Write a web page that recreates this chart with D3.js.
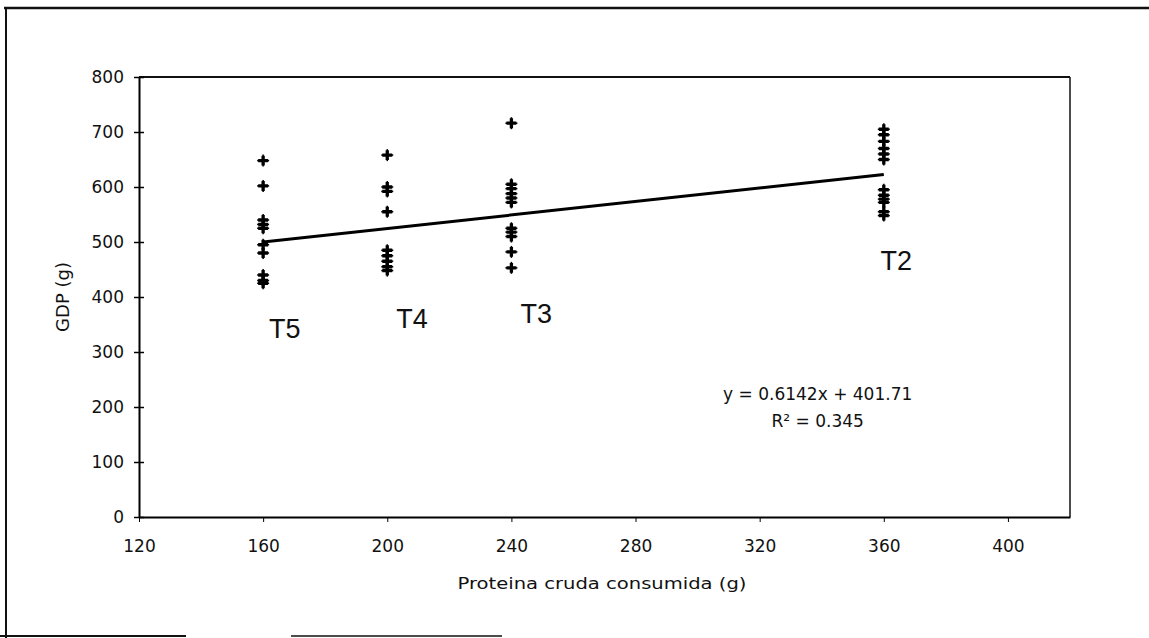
<!DOCTYPE html>
<html>
<head>
<meta charset="utf-8">
<script src="https://cdn.jsdelivr.net/npm/d3@7"></script>
<style>
  html, body { margin: 0; padding: 0; background: #fff; }
  svg { display: block; }
  text { font-family: "DejaVu Sans", sans-serif; fill: #111; }
</style>
</head>
<body>
<svg id="chart" width="1149" height="638"></svg>
<script>
// ---- data ----
const treatments = ["T5", "T4", "T3", "T2"];
const proteinX = [160, 200, 240, 360];
const t5Values = [648, 602, 540, 532, 525, 495, 480, 440, 430, 425];
const t4Values = [658, 600, 592, 555, 485, 475, 465, 455, 448];
const t3Values = [716, 605, 597, 588, 580, 572, 525, 518, 510, 482, 453];
const t2Values = [705, 695, 683, 670, 660, 650, 595, 585, 578, 572, 555, 548];
const seriesValues = [t5Values, t4Values, t3Values, t2Values];
const xTicks = [120, 160, 200, 240, 280, 320, 360, 400];
const yTicks = [0, 100, 200, 300, 400, 500, 600, 700, 800];
const slope = 0.6142, intercept = 401.71;
const trendRange = [160, 360];
const labelX = [167, 208, 248, 364];
const labelY = [325, 344, 353, 449];
const eqText = ["y = 0.6142x + 401.71", "R² = 0.345"];
const eqPos = [[338.7, 213], [338.7, 164]];

// ---- layout ----
const svg = d3.select("#chart");
const x = d3.scaleLinear().domain([120, 420]).range([139, 1070]);
const y = d3.scaleLinear().domain([0, 800]).range([517, 77]);

// outer frame (scanned page border)
const frame = svg.append("g").attr("stroke", "#111").attr("fill", "none");
frame.append("line").attr("x1", 6).attr("x2", 6).attr("y1", 8).attr("y2", 638).attr("stroke-width", 2);
frame.append("line").attr("x1", 4).attr("x2", 1149).attr("y1", 8).attr("y2", 8).attr("stroke-width", 2.5);
frame.append("line").attr("x1", 0).attr("x2", 186).attr("y1", 636).attr("y2", 636).attr("stroke-width", 2);
frame.append("line").attr("x1", 291).attr("x2", 502).attr("y1", 636).attr("y2", 636).attr("stroke-width", 1.5);

// plot box top/right
svg.append("line").attr("x1", x(120)).attr("x2", x(420)).attr("y1", y(800)).attr("y2", y(800))
  .attr("stroke", "#111").attr("stroke-width", 2);
svg.append("line").attr("x1", x(420)).attr("x2", x(420)).attr("y1", y(800)).attr("y2", y(0))
  .attr("stroke", "#111").attr("stroke-width", 1.5);

// axes
const yAxis = svg.append("g").attr("transform", `translate(${x(120)},0)`)
  .call(d3.axisLeft(y).tickValues(yTicks).tickSize(5).tickPadding(10).tickSizeOuter(0));
yAxis.selectAll(".tick line").attr("x1", 5).attr("stroke-width", 1.5);
yAxis.select(".domain").attr("stroke-width", 2);
yAxis.selectAll("text").style("font-size", "17px").style("font-family", "DejaVu Sans").attr("fill", "#111");

const xAxis = svg.append("g").attr("transform", `translate(0,${y(0)})`)
  .call(d3.axisBottom(x).tickValues(xTicks).tickSize(5).tickPadding(18).tickSizeOuter(0));
xAxis.select(".domain").attr("stroke-width", 2);
xAxis.selectAll("text").style("font-size", "17px").style("font-family", "DejaVu Sans").attr("fill", "#111");

// axis titles
svg.append("text").attr("x", 602).attr("y", 589).attr("text-anchor", "middle")
  .style("font-size", "16px").attr("textLength", 289).attr("lengthAdjust", "spacingAndGlyphs")
  .text("Proteina cruda consumida (g)");
svg.append("text").attr("transform", "translate(69,297) rotate(-90)").attr("text-anchor", "middle")
  .style("font-size", "18px").text("GDP (g)");

// trend line
svg.append("line")
  .attr("x1", x(trendRange[0])).attr("y1", y(slope * trendRange[0] + intercept))
  .attr("x2", x(trendRange[1])).attr("y2", y(slope * trendRange[1] + intercept))
  .attr("stroke", "#000").attr("stroke-width", 3);

// points
const pts = [];
seriesValues.forEach((vals, i) => vals.forEach(v => pts.push({ x: proteinX[i], v })));
const mk = svg.append("g").selectAll("g").data(pts).join("g")
  .attr("transform", d => `translate(${x(d.x)},${y(d.v)})`);
mk.append("path").attr("d", d3.symbol().type(d3.symbolCross).size(55)).attr("fill", "#000");
mk.append("line").attr("x1", -6).attr("x2", 6).attr("stroke", "#000").attr("stroke-width", 1.5);
mk.append("line").attr("y1", -6).attr("y2", 6).attr("stroke", "#000").attr("stroke-width", 1.5);

// treatment labels
svg.append("g").selectAll("text").data(treatments).join("text")
  .attr("x", (d, i) => x(labelX[i])).attr("y", (d, i) => y(labelY[i]))
  .attr("text-anchor", "middle").style("font-family", "Liberation Sans, Arial, sans-serif")
  .style("font-size", "27px").text(d => d);

// equation
svg.append("g").selectAll("text").data(eqText).join("text")
  .attr("x", (d, i) => x(eqPos[i][0])).attr("y", (d, i) => y(eqPos[i][1]))
  .attr("text-anchor", "middle").style("font-size", "17px").text(d => d);
</script>
</body>
</html>
